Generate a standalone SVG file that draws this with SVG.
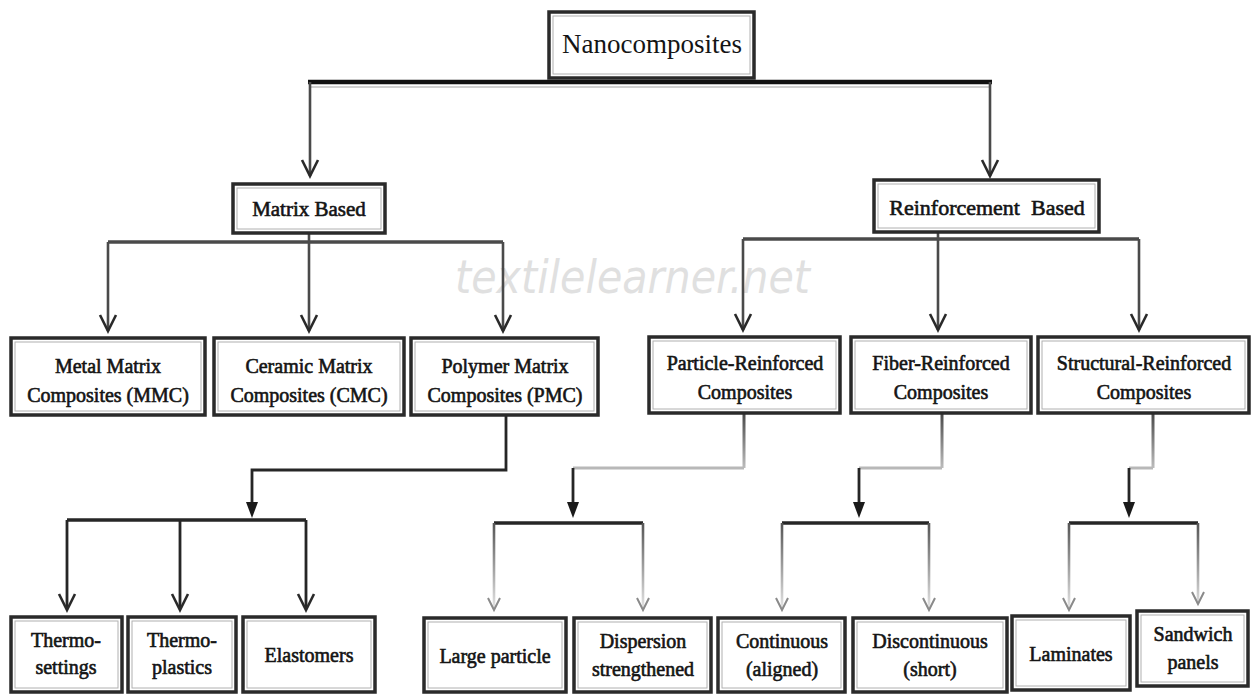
<svg xmlns="http://www.w3.org/2000/svg" width="1254" height="695" viewBox="0 0 1254 695">
<style>
.box{fill:#fff;stroke:#2a2a2a;stroke-width:3.5}
.inner{fill:none;stroke:#b0b0b0;stroke-width:1}
.t{font-family:"Liberation Serif","Times New Roman",serif;font-size:20px;fill:#141414;text-anchor:middle}
.b{stroke:#141414;stroke-width:0.6}
.dk{fill:none;stroke:#262626;stroke-width:3}
.md{fill:none;stroke:#4a4a4a;stroke-width:2.6}
.lt{fill:none;stroke:#b8b8b8;stroke-width:3}
.chev{fill:none;stroke:#2a2a2a;stroke-width:2.6;stroke-linejoin:miter}
.chevL{fill:none;stroke:#8a8a8a;stroke-width:2;stroke-linejoin:miter}
.tri{fill:#1a1a1a}
.wm{font-family:"DejaVu Sans","Liberation Sans",sans-serif;font-style:italic;font-size:46px;fill:#e0e0e0}
</style>
<defs>
<linearGradient id="fadeBottom" gradientUnits="userSpaceOnUse" x1="0" y1="523" x2="0" y2="608">
<stop offset="0" stop-color="#555"/><stop offset="1" stop-color="#e4e4e4"/>
</linearGradient>
<linearGradient id="fadeElbow" gradientUnits="userSpaceOnUse" x1="0" y1="414" x2="0" y2="468">
<stop offset="0" stop-color="#4a4a4a"/><stop offset="1" stop-color="#bdbdbd"/>
</linearGradient>
</defs>
<rect width="1254" height="695" fill="#fff"/>
<text class="wm" x="455" y="293" textLength="355" lengthAdjust="spacingAndGlyphs">textilelearner.net</text>

<g id="connectors">
<!-- top level -->
<line x1="310" y1="87" x2="990" y2="87" stroke="#d0d0d0" stroke-width="2"/>
<path class="dk" d="M308,82 H992" style="stroke-width:4.5;stroke:#111"/>
<path class="md" d="M310,82 V176 M990,82 V176"/>
<polyline class="chev" points="302,160 310,176 318,160"/>
<polyline class="chev" points="982,160 990,176 998,160"/>
<!-- matrix based -->
<path class="md" d="M108,242 H503" style="stroke-width:3.4"/>
<path class="md" d="M309,233 V331 M108,242 V331 M503,242 V331"/>
<polyline class="chev" points="100,315 108,331 116,315"/>
<polyline class="chev" points="301,315 309,331 317,315"/>
<polyline class="chev" points="495,315 503,331 511,315"/>
<!-- reinforcement based -->
<path class="md" d="M743,239 H1139" style="stroke-width:3.4"/>
<path class="md" d="M938,232 V330 M743,239 V330 M1139,239 V330"/>
<polyline class="chev" points="735,314 743,330 751,314"/>
<polyline class="chev" points="930,314 938,330 946,314"/>
<polyline class="chev" points="1131,314 1139,330 1147,314"/>
<!-- polymer group -->
<path class="dk" d="M506,415 V470 H252 V504" style="stroke-width:2.8"/>
<polygon class="tri" points="246,502 258,502 252,518"/>
<path class="dk" d="M67,520 H306" style="stroke-width:3.4"/>
<path class="dk" d="M67,520 V609 M180,520 V609 M306,520 V609" style="stroke-width:2.8"/>
<polyline class="chev" points="59,594 67,610 75,594"/>
<polyline class="chev" points="172,594 180,610 188,594"/>
<polyline class="chev" points="298,594 306,610 314,594"/>
<!-- particle group -->
<path d="M744,414 V468" fill="none" stroke="url(#fadeElbow)" stroke-width="3"/>
<path class="lt" d="M744,468 H573"/>
<path class="dk" d="M573,468 V504" style="stroke-width:2.8"/>
<polygon class="tri" points="567,502 579,502 573,518"/>
<path class="dk" d="M494,523 H643" style="stroke-width:3.4"/>
<path d="M494,523 V608 M643,523 V608" fill="none" stroke="url(#fadeBottom)" stroke-width="2.6"/>
<polyline class="chevL" points="488,598 494,610 500,598"/>
<polyline class="chevL" points="637,598 643,610 649,598"/>
<!-- fiber group -->
<path d="M942,414 V468" fill="none" stroke="url(#fadeElbow)" stroke-width="3"/>
<path class="lt" d="M942,468 H859"/>
<path class="dk" d="M859,468 V504" style="stroke-width:2.8"/>
<polygon class="tri" points="853,502 865,502 859,518"/>
<path class="dk" d="M782,523 H929" style="stroke-width:3.4"/>
<path d="M782,523 V608 M929,523 V608" fill="none" stroke="url(#fadeBottom)" stroke-width="2.6"/>
<polyline class="chevL" points="776,598 782,610 788,598"/>
<polyline class="chevL" points="923,598 929,610 935,598"/>
<!-- structural group -->
<path d="M1153,414 V468" fill="none" stroke="url(#fadeElbow)" stroke-width="3"/>
<path class="lt" d="M1153,468 H1129"/>
<path class="dk" d="M1129,468 V504" style="stroke-width:2.8"/>
<polygon class="tri" points="1123,502 1135,502 1129,518"/>
<path class="dk" d="M1069,523 H1198" style="stroke-width:3.4"/>
<path d="M1069,523 V608 M1198,523 V604" fill="none" stroke="url(#fadeBottom)" stroke-width="2.6"/>
<polyline class="chevL" points="1063,598 1069,610 1075,598"/>
<polyline class="chevL" points="1192,592 1198,604 1204,592"/>
</g>

<g id="nanocomposites">
<rect class="box" x="549" y="12" width="205" height="66"/>
<rect class="inner" x="553" y="16" width="197" height="58"/>
<text class="t" x="652" y="53" style="font-size:27px">Nanocomposites</text>
</g>
<g id="matrix-based">
<rect class="box" x="233" y="184" width="152" height="49"/>
<rect class="inner" x="237" y="188" width="144" height="41"/>
<text class="t b" x="309" y="216" style="font-size:21px">Matrix Based</text>
</g>
<g id="reinforcement-based">
<rect class="box" x="874" y="180" width="225" height="52"/>
<rect class="inner" x="878" y="184" width="217" height="44"/>
<text class="t b" x="987" y="215" style="font-size:22px" xml:space="preserve">Reinforcement  Based</text>
</g>

<g id="mmc">
<rect class="box" x="11" y="338" width="194" height="77"/>
<rect class="inner" x="15" y="342" width="186" height="69"/>
<text class="t b" x="108" y="373">Metal Matrix</text>
<text class="t b" x="108" y="402">Composites (MMC)</text>
</g>
<g id="cmc">
<rect class="box" x="214" y="338" width="190" height="77"/>
<rect class="inner" x="218" y="342" width="182" height="69"/>
<text class="t b" x="309" y="373">Ceramic Matrix</text>
<text class="t b" x="309" y="402">Composites (CMC)</text>
</g>
<g id="pmc">
<rect class="box" x="411" y="338" width="187" height="77"/>
<rect class="inner" x="415" y="342" width="179" height="69"/>
<text class="t b" x="505" y="373">Polymer Matrix</text>
<text class="t b" x="505" y="402">Composites (PMC)</text>
</g>
<g id="particle-reinforced">
<rect class="box" x="649" y="337" width="191" height="76"/>
<rect class="inner" x="653" y="341" width="183" height="68"/>
<text class="t b" x="745" y="370">Particle-Reinforced</text>
<text class="t b" x="745" y="399">Composites</text>
</g>
<g id="fiber-reinforced">
<rect class="box" x="851" y="337" width="180" height="76"/>
<rect class="inner" x="855" y="341" width="172" height="68"/>
<text class="t b" x="941" y="370">Fiber-Reinforced</text>
<text class="t b" x="941" y="399">Composites</text>
</g>
<g id="structural-reinforced">
<rect class="box" x="1038" y="337" width="211" height="76"/>
<rect class="inner" x="1042" y="341" width="203" height="68"/>
<text class="t b" x="1144" y="370">Structural-Reinforced</text>
<text class="t b" x="1144" y="399">Composites</text>
</g>

<g id="thermosettings">
<rect class="box" x="11" y="617" width="111" height="75"/>
<rect class="inner" x="15" y="621" width="103" height="67"/>
<text class="t b" x="66" y="647">Thermo-</text>
<text class="t b" x="66" y="674">settings</text>
</g>
<g id="thermoplastics">
<rect class="box" x="128" y="617" width="108" height="75"/>
<rect class="inner" x="132" y="621" width="100" height="67"/>
<text class="t b" x="182" y="647">Thermo-</text>
<text class="t b" x="182" y="674">plastics</text>
</g>
<g id="elastomers">
<rect class="box" x="243" y="617" width="132" height="75"/>
<rect class="inner" x="247" y="621" width="124" height="67"/>
<text class="t b" x="309" y="662">Elastomers</text>
</g>
<g id="large-particle">
<rect class="box" x="424" y="618" width="142" height="74"/>
<rect class="inner" x="428" y="622" width="134" height="66"/>
<text class="t b" x="495" y="663">Large particle</text>
</g>
<g id="dispersion-strengthened">
<rect class="box" x="574" y="618" width="137" height="74"/>
<rect class="inner" x="578" y="622" width="129" height="66"/>
<text class="t b" x="643" y="648">Dispersion</text>
<text class="t b" x="643" y="676">strengthened</text>
</g>
<g id="continuous">
<rect class="box" x="718" y="618" width="127" height="74"/>
<rect class="inner" x="722" y="622" width="119" height="66"/>
<text class="t b" x="782" y="648">Continuous</text>
<text class="t b" x="782" y="676">(aligned)</text>
</g>
<g id="discontinuous">
<rect class="box" x="853" y="618" width="154" height="74"/>
<rect class="inner" x="857" y="622" width="146" height="66"/>
<text class="t b" x="930" y="648">Discontinuous</text>
<text class="t b" x="930" y="676">(short)</text>
</g>
<g id="laminates">
<rect class="box" x="1012" y="616" width="118" height="74"/>
<rect class="inner" x="1016" y="620" width="110" height="66"/>
<text class="t b" x="1071" y="661">Laminates</text>
</g>
<g id="sandwich-panels">
<rect class="box" x="1137" y="611" width="111" height="75"/>
<rect class="inner" x="1141" y="615" width="103" height="67"/>
<text class="t b" x="1193" y="641">Sandwich</text>
<text class="t b" x="1193" y="669">panels</text>
</g>
</svg>
